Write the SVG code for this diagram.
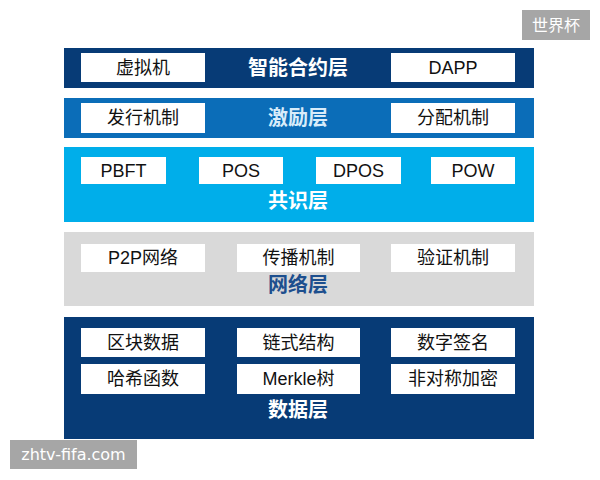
<svg xmlns="http://www.w3.org/2000/svg" width="600" height="480" viewBox="0 0 600 480">
<style>
.box{fill:#ffffff}
.bt{font-family:"Liberation Sans","Noto Sans CJK SC",sans-serif;font-size:18px;fill:#111111;text-anchor:middle;dominant-baseline:central}
.title{font-family:"Liberation Sans","Noto Sans CJK SC",sans-serif;font-size:20px;font-weight:bold;text-anchor:middle;dominant-baseline:central}
.wm{font-family:"Liberation Sans","Noto Sans CJK SC",sans-serif;font-size:16px;fill:#ffffff;text-anchor:middle;dominant-baseline:central}
</style>
<rect width="600" height="480" fill="#ffffff"/>

<g id="layer-contract">
<rect x="64" y="48" width="470" height="40" fill="#073b76"/>
<rect class="box" x="81" y="53" width="124" height="29"/>
<text class="bt" x="143" y="67.5">虚拟机</text>
<text class="title" x="298" y="67.5" fill="#ffffff">智能合约层</text>
<rect class="box" x="391" y="53" width="124" height="29"/>
<text class="bt" x="453" y="67.5">DAPP</text>
</g>

<g id="layer-incentive">
<rect x="64" y="98" width="470" height="40" fill="#0b6db8"/>
<rect class="box" x="81" y="103" width="124" height="30"/>
<text class="bt" x="143" y="118">发行机制</text>
<text class="title" x="298" y="118" fill="#d8ecfa">激励层</text>
<rect class="box" x="391" y="103" width="124" height="30"/>
<text class="bt" x="453" y="118">分配机制</text>
</g>

<g id="layer-consensus">
<rect x="64" y="147" width="470" height="75" fill="#00aeea"/>
<rect class="box" x="81" y="157" width="85" height="27"/>
<text class="bt" x="123.5" y="170.5">PBFT</text>
<rect class="box" x="199" y="157" width="84" height="27"/>
<text class="bt" x="241" y="170.5">POS</text>
<rect class="box" x="316" y="157" width="85" height="27"/>
<text class="bt" x="358.5" y="170.5">DPOS</text>
<rect class="box" x="431" y="157" width="84" height="27"/>
<text class="bt" x="473" y="170.5">POW</text>
<text class="title" x="298" y="201" fill="#ffffff">共识层</text>
</g>

<g id="layer-network">
<rect x="64" y="232" width="470" height="74" fill="#d9d9d9"/>
<rect class="box" x="81" y="244" width="124" height="28"/>
<text class="bt" x="143" y="258">P2P网络</text>
<rect class="box" x="237" y="244" width="123" height="28"/>
<text class="bt" x="298.5" y="258">传播机制</text>
<rect class="box" x="391" y="244" width="124" height="28"/>
<text class="bt" x="453" y="258">验证机制</text>
<text class="title" x="298" y="285" fill="#1d4f8e">网络层</text>
</g>

<g id="layer-data">
<rect x="64" y="317" width="470" height="122" fill="#073b76"/>
<rect class="box" x="81" y="328" width="124" height="29"/>
<text class="bt" x="143" y="342.5">区块数据</text>
<rect class="box" x="237" y="328" width="123" height="29"/>
<text class="bt" x="298.5" y="342.5">链式结构</text>
<rect class="box" x="391" y="328" width="124" height="29"/>
<text class="bt" x="453" y="342.5">数字签名</text>
<rect class="box" x="81" y="364" width="124" height="30"/>
<text class="bt" x="143" y="379">哈希函数</text>
<rect class="box" x="237" y="364" width="123" height="30"/>
<text class="bt" x="298.5" y="379">Merkle树</text>
<rect class="box" x="391" y="364" width="124" height="30"/>
<text class="bt" x="453" y="379">非对称加密</text>
<text class="title" x="298" y="410" fill="#ffffff">数据层</text>
</g>

<g id="watermark-top">
<rect x="522" y="10" width="68" height="30" fill="#a6a6a6"/>
<text class="wm" x="556" y="25">世界杯</text>
</g>

<g id="watermark-bottom">
<rect x="10" y="440" width="127" height="29" fill="#a6a6a6"/>
<text class="wm" x="73.5" y="454.5" style="font-family:'DejaVu Sans',sans-serif">zhtv-fifa.com</text>
</g>

<g id="connectors"></g>
</svg>
